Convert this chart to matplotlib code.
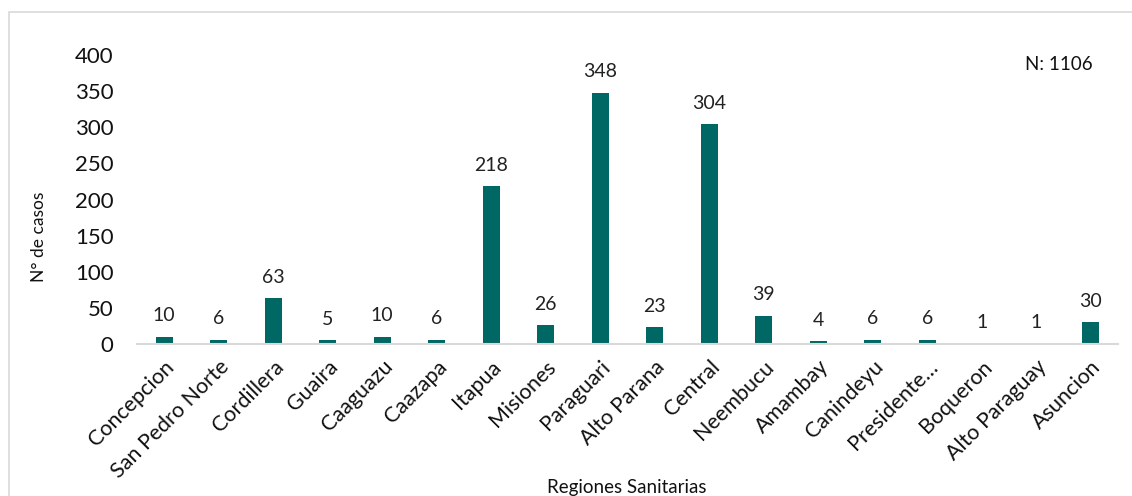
import matplotlib.pyplot as plt
from matplotlib.patches import Rectangle

plt.rcParams['font.family'] = ['Lato', 'DejaVu Sans']

# Casos por region sanitaria
regiones = ["Concepcion", "San Pedro Norte", "Cordillera", "Guaira", "Caaguazu",
            "Caazapa", "Itapua", "Misiones", "Paraguari", "Alto Parana", "Central",
            "Neembucu", "Amambay", "Canindeyu", "Presidente…", "Boqueron",
            "Alto Paraguay", "Asuncion"]
casos = [10, 6, 63, 5, 10, 6, 218, 26, 348, 23, 304, 39, 4, 6, 6, 1, 1, 30]
y_ticks = [0, 50, 100, 150, 200, 250, 300, 350, 400]
total_label = "N: 1106"

color_barra = "#006864"

fig = plt.figure(figsize=(11.32, 4.96), dpi=100)
ax = fig.add_axes([137 / 1132, 1 - 344 / 496, 981 / 1132, 289 / 496])

# Light gray chart border (clipped at the right and bottom edges)
fig.patches.append(Rectangle((9 / 1132, -0.1), 1.2, 1 - 12 / 496 + 0.1,
                             transform=fig.transFigure, fill=False,
                             edgecolor="#d9d9d9", linewidth=1.2))

x = list(range(len(regiones)))
bars = ax.bar(x, casos, width=0.31, color=color_barra)

for xi, v in zip(x, casos):
    ax.annotate(str(v), (xi, v), xytext=(0, 9), textcoords="offset points",
                ha="center", va="bottom", fontsize=14, color="#222222")

ax.set_xlim(-0.5, len(regiones) - 0.5)
ax.set_ylim(0, 400)
ax.set_yticks(y_ticks)
ax.tick_params(axis="y", length=0, labelsize=16, pad=17, labelcolor="#111111")
ax.tick_params(axis="x", length=0, labelsize=15.5, pad=9, labelcolor="#111111")
ax.set_xticks(x)
ax.set_xticklabels(regiones, rotation=45, ha="right", rotation_mode="anchor")

for s in ["top", "right", "left"]:
    ax.spines[s].set_visible(False)
ax.spines["bottom"].set_color("#d9d9d9")
ax.spines["bottom"].set_linewidth(1.5)

ax.set_ylabel("N° de casos", fontsize=12.5, color="#111111")
ax.yaxis.set_label_coords(-0.092, 0.37)
fig.text(627 / 1132, 1 - 487 / 496, "Regiones Sanitarias", ha="center",
         va="center", fontsize=13.5, color="#111111")
fig.text(1059 / 1132, 1 - 64 / 496, total_label, ha="center", va="center",
         fontsize=13.5, color="#111111")

fig.savefig("out.png", dpi=100)
